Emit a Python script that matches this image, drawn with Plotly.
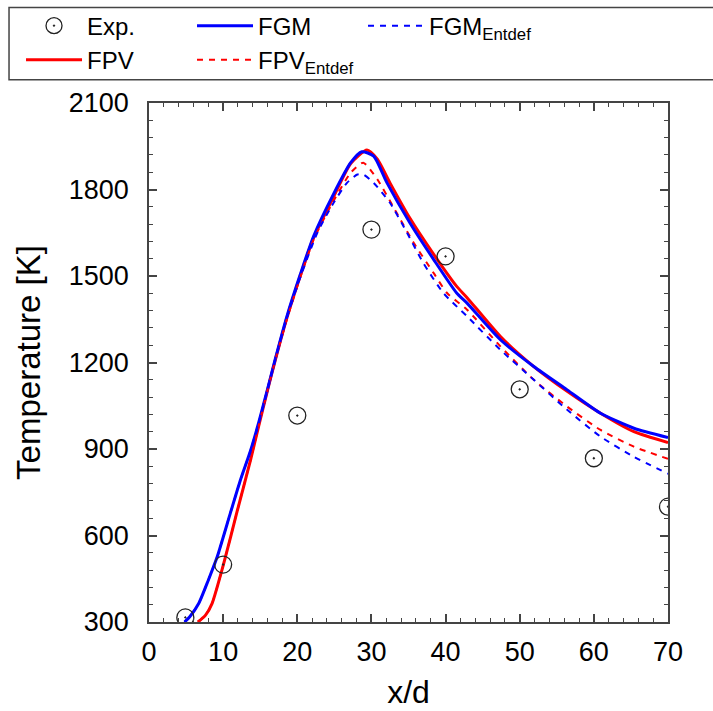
import plotly.graph_objects as go

# Experimental data
exp_x = [4.9, 10.0, 20.0, 30.0, 40.0, 50.0, 60.0, 70.0]
exp_T = [316, 499, 1016, 1661, 1568, 1107, 868, 700]

# FGM
fgm_x = [4.8, 5.5, 6.7, 8.0, 9.2, 11.0, 12.3, 13.7, 14.8, 15.9, 17.0, 18.6, 20.4, 22.2, 24.9,
         27.2, 28.7, 30.3, 32.1, 35.2, 38.4, 41.5, 42.9, 47.4, 51.9, 56.4, 60.9, 65.4, 70.0]
fgm_T = [300, 318, 364, 445, 526, 680, 790, 895, 992, 1099, 1209, 1360, 1505, 1638, 1785,
         1893, 1931, 1916, 1823, 1684, 1557, 1441, 1406, 1279, 1186, 1105, 1024, 972, 940]

# FPV
fpv_x = [6.6, 7.6, 8.5, 10.1, 11.9, 13.7, 14.8, 15.9, 17.0, 18.6, 20.4, 22.2, 24.9, 27.2,
         29.4, 30.8, 32.5, 35.2, 38.4, 41.5, 42.9, 47.4, 51.9, 56.4, 60.9, 65.4, 70.0]
fpv_T = [300, 323, 364, 505, 685, 862, 980, 1095, 1205, 1355, 1500, 1632, 1775, 1890,
         1937, 1905, 1823, 1700, 1575, 1464, 1425, 1290, 1186, 1100, 1024, 960, 922]

# FPV_Entdef
fpve_x = [6.6, 7.6, 8.5, 10.1, 11.9, 13.7, 14.8, 15.9, 17.0, 18.6, 20.4, 22.2, 24.5, 27.2,
          28.9, 30.8, 33.4, 35.7, 38.4, 40.2, 42.9, 47.4, 51.9, 56.4, 60.9, 65.4, 70.0]
fpve_T = [300, 323, 364, 505, 685, 862, 980, 1095, 1205, 1350, 1495, 1626, 1742, 1858,
          1893, 1835, 1719, 1615, 1510, 1441, 1383, 1256, 1140, 1047, 966, 908, 866]

# FGM_Entdef
fgme_x = [4.8, 5.5, 6.7, 8.0, 9.2, 11.0, 12.3, 13.7, 14.8, 15.9, 17.0, 18.6, 20.4, 22.7, 24.9,
          26.7, 28.1, 28.9, 30.3, 32.5, 34.8, 37.0, 39.7, 42.9, 47.4, 51.9, 56.4, 60.9, 65.4, 70.0]
fgme_T = [300, 318, 364, 445, 526, 680, 790, 895, 992, 1099, 1209, 1355, 1495, 1650, 1754,
          1823, 1852, 1852, 1823, 1754, 1650, 1545, 1441, 1360, 1244, 1140, 1036, 943, 873, 814]

x_ticks = [0, 10, 20, 30, 40, 50, 60, 70]
y_ticks = [300, 600, 900, 1200, 1500, 1800, 2100]

FONT = "Liberation Sans, Arial, sans-serif"

fig = go.Figure()
fig.add_trace(go.Scatter(x=fpv_x, y=fpv_T, mode="lines", name="FPV", legendrank=4,
                         line=dict(color="#ff0000", width=3, shape="spline", smoothing=0.6)))
fig.add_trace(go.Scatter(x=fgm_x, y=fgm_T, mode="lines", name="FGM", legendrank=2,
                         line=dict(color="#0000ff", width=3, shape="spline", smoothing=0.6)))
fig.add_trace(go.Scatter(x=fpve_x, y=fpve_T, mode="lines", name="FPV<sub>Entdef</sub>", legendrank=5,
                         line=dict(color="#ff0000", width=2, dash="6px,6px", shape="spline", smoothing=0.6)))
fig.add_trace(go.Scatter(x=fgme_x, y=fgme_T, mode="lines", name="FGM<sub>Entdef</sub>", legendrank=3,
                         line=dict(color="#0000ff", width=2, dash="6px,6px", shape="spline", smoothing=0.6)))
fig.add_trace(go.Scatter(x=exp_x, y=exp_T, mode="markers", name="Exp.", legendrank=1,
                         marker=dict(symbol="circle-open-dot", size=17, color="#222222",
                                     line=dict(width=1.3, color="#222222"))))

axis_common = dict(showline=True, linecolor="#444444", linewidth=1.5, mirror="allticks",
                   ticks="inside", ticklen=8, tickwidth=1.5, tickcolor="#444444",
                   showgrid=False, zeroline=False,
                   tickfont=dict(family=FONT, size=27, color="#000000"))

fig.update_xaxes(range=[0, 70], tickvals=x_ticks, ticktext=[str(v) for v in x_ticks],
                 ticklabelstandoff=5,
                 minor=dict(ticks="inside", ticklen=4, dtick=2, tick0=0, tickcolor="#444444", tickwidth=1.2),
                 title=dict(text="x/d", font=dict(family=FONT, size=32, color="#000000"), standoff=14),
                 **axis_common)
fig.update_yaxes(range=[300, 2100], tickvals=y_ticks, ticktext=[str(v) for v in y_ticks],
                 ticklabelstandoff=13,
                 minor=dict(ticks="inside", ticklen=4, dtick=60, tick0=300, tickcolor="#444444", tickwidth=1.2),
                 title=dict(text="Temperature [K]", font=dict(family=FONT, size=33, color="#000000"), standoff=18),
                 **axis_common)

# legend frame (the reference's legend box runs off the right edge)
fig.add_shape(type="rect", xref="paper", yref="paper",
              x0=-0.2697, x1=1.12, y0=1.045, y1=1.1838,
              line=dict(color="#444444", width=1.5), fillcolor="rgba(0,0,0,0)", layer="above")

fig.update_layout(
    width=713, height=711,
    margin=dict(l=149, r=45, t=103, b=89, autoexpand=False),
    plot_bgcolor="white", paper_bgcolor="white",
    font=dict(family=FONT, size=24, color="#000000"),
    legend=dict(orientation="h", x=-0.2466, xanchor="left", y=1.1916, yanchor="top",
                bgcolor="rgba(0,0,0,0)", borderwidth=0,
                entrywidth=100, entrywidthmode="pixels", itemwidth=56,
                font=dict(family=FONT, size=24, color="#000000"),
                traceorder="normal"),
)

fig.write_html("out.html", config={"displayModeBar": False},
               post_script="document.body.style.margin='0';document.body.style.overflow='hidden';")
